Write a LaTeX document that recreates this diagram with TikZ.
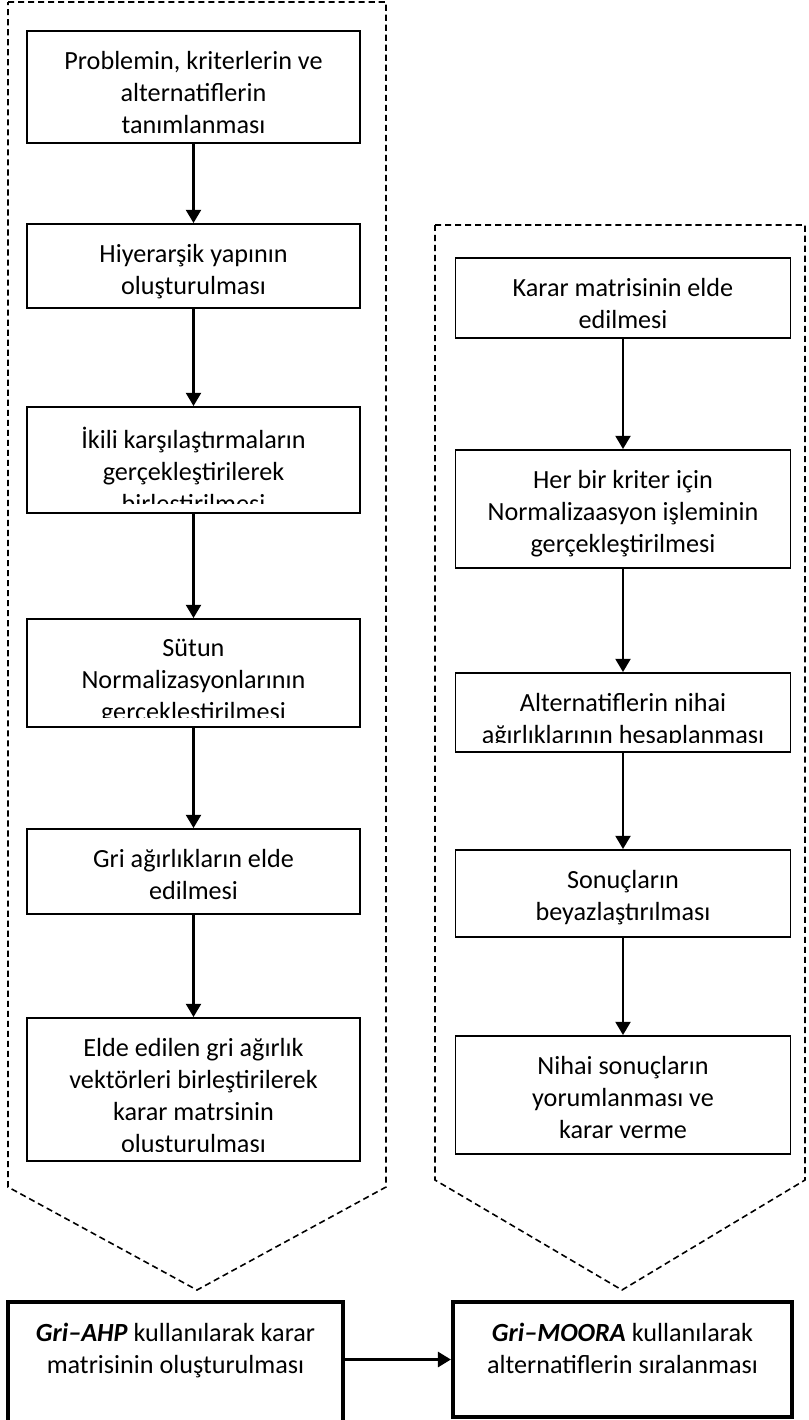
\documentclass[tikz,border=0pt]{standalone}
\usepackage{fontspec}
\setmainfont{Carlito}
\usetikzlibrary{arrows.meta}

\begin{document}
\begin{tikzpicture}[>={Triangle[length=7.5pt, width=8.5pt]},
	txt/.style={draw=none, minimum width=0pt, minimum height=0pt, font={\fontsize{14.9pt}{18.2pt}\selectfont}, align=center, inner sep=0pt},
	box/.style={draw, line width=1.1pt, inner sep=0pt, path picture={\clip ([yshift=0.2cm]path picture bounding box.south west) rectangle (path picture bounding box.north east); \node[txt, anchor=north] at ([yshift=-0.38cm]path picture bounding box.north) {#1};}},
	lbox/.style={box={#1}, minimum width=6.66cm},
	rbox/.style={box={#1}, minimum width=6.70cm},
	bigbox/.style={box={#1}, line width=2.3pt},
	frame/.style={draw, line width=0.9pt, dash pattern=on 3.5pt off 2.2pt},
	flow/.style={->, line width=1.3pt}]
	\useasboundingbox (0,0) rectangle (16.16,-28.4);
	% dashed outlines
	\draw[frame] (0.16,-0.04) -- (7.72,-0.04) -- (7.72,-23.74) -- (3.94,-25.80) -- (0.16,-23.74) -- cycle;
	\draw[frame] (8.70,-4.50) -- (16.10,-4.50) -- (16.10,-23.60) -- (12.44,-25.80) -- (8.70,-23.60) -- cycle;
	% Gri-AHP steps
	\node[lbox={Problemin, kriterlerin ve\\alternatiflerin\\tanımlanması}, minimum height=2.24cm] (prob) at (3.87,-1.74) {};
	\node[lbox={Hiyerarşik yapının\\oluşturulması}, minimum height=1.68cm] (hiy) at (3.87,-5.32) {};
	\node[lbox={İkili karşılaştırmaların\\gerçekleştirilerek\\birleştirilmesi}, minimum height=2.12cm] (ikili) at (3.87,-9.20) {};
	\node[lbox={Sütun\\Normalizasyonlarının\\gerçekleştirilmesi}, minimum height=2.16cm] (sutun) at (3.87,-13.46) {};
	\node[lbox={Gri ağırlıkların elde\\edilmesi}, minimum height=1.70cm] (gri) at (3.87,-17.43) {};
	\node[lbox={Elde edilen gri ağırlık\\vektörleri birleştirilerek\\karar matrsinin\\oluşturulması}, minimum height=2.86cm] (elde) at (3.87,-21.79) {};
	% Gri-MOORA steps
	\node[rbox={Karar matrisinin elde\\edilmesi}, minimum height=1.60cm] (karar) at (12.46,-5.96) {};
	\node[rbox={Her bir kriter için\\Normalizaasyon işleminin\\gerçekleştirilmesi}, minimum height=2.36cm] (norm) at (12.46,-10.18) {};
	\node[rbox={Alternatiflerin nihai\\ağırlıklarının hesaplanması}, minimum height=1.58cm] (nihai) at (12.46,-14.25) {};
	\node[rbox={Sonuçların\\beyazlaştırılması}, minimum height=1.74cm] (beyaz) at (12.46,-17.87) {};
	\node[rbox={Nihai sonuçların\\yorumlanması ve\\karar verme}, minimum height=2.36cm] (yorum) at (12.46,-21.90) {};
	% methods
	\node[bigbox={\textbf{\textit{Gri–AHP}} kullanılarak karar\\matrisinin oluşturulması}, minimum width=6.70cm, minimum height=2.70cm] (ahp) at (3.51,-27.39) {};
	\node[bigbox={\textbf{\textit{Gri–MOORA}} kullanılarak\\alternatiflerin sıralanması}, minimum width=6.78cm, minimum height=2.30cm] (moora) at (12.45,-27.19) {};
	\draw[flow] (prob) -- (hiy);
	\draw[flow] (hiy) -- (ikili);
	\draw[flow] (ikili) -- (sutun);
	\draw[flow] (sutun) -- (gri);
	\draw[flow] (gri) -- (elde);
	\draw[flow] (karar) -- (norm);
	\draw[flow] (norm) -- (nihai);
	\draw[flow] (nihai) -- (beyaz);
	\draw[flow] (beyaz) -- (yorum);
	\draw[->, line width=1.9pt] (moora.west -| ahp.east) -- (moora.west);
\end{tikzpicture}
\end{document}
